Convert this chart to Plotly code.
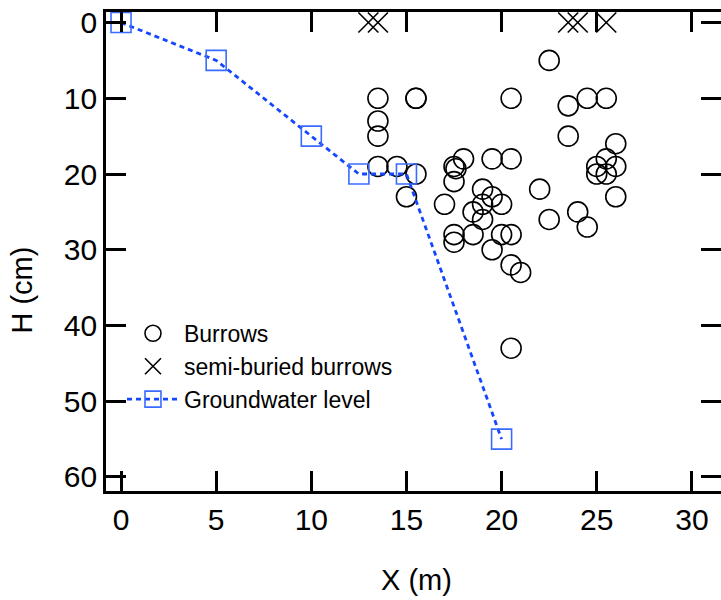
import plotly.graph_objects as go

# Burrows (X in m, H in cm)
burrow_x = [22.5, 13.5, 15.5, 15.5, 20.5, 24.5, 25.5, 23.5, 13.5, 13.5, 23.5, 26,
            13.5, 14.5, 15.5, 17.5, 17.6, 17.5, 18, 19.5, 20.5, 25.5, 25, 26, 25, 25.5,
            15, 17, 19, 19.5, 19, 20, 18.5, 19, 22, 22.5, 24, 24.5, 26,
            17.5, 17.5, 18.5, 20, 20.5, 19.5, 20.5, 21, 20.5]
burrow_h = [5, 10, 10, 10, 10, 10, 10, 11, 13, 15, 15, 16,
            19, 19, 20, 19, 19.3, 21, 18, 18, 18, 18, 19, 19, 20, 20,
            23, 24, 22, 23, 24, 24, 25, 26, 22, 26, 25, 27, 23,
            28, 29, 28, 28, 28, 30, 32, 33, 43]

# Semi-buried burrows
semi_x = [13.0, 13.5, 23.5, 24.0, 25.5]
semi_h = [0, 0, 0, 0, 0]

# Groundwater level
gw_x = [0, 5, 10, 12.5, 15, 20]
gw_h = [0, 5, 15, 20, 20, 55]

x_ticks = [0, 5, 10, 15, 20, 25, 30]
y_ticks = [0, 10, 20, 30, 40, 50, 60]

FONT = "Liberation Sans, Arial, sans-serif"

fig = go.Figure()
fig.add_trace(go.Scatter(
    x=burrow_x, y=burrow_h, mode="markers", name="Burrows",
    marker=dict(symbol="circle-open", size=20, color="black", line=dict(width=1.6, color="black")),
))
fig.add_trace(go.Scatter(
    x=semi_x, y=semi_h, mode="markers", name="semi-buried burrows",
    marker=dict(symbol="x-thin-open", size=20, color="black", line=dict(width=1.6, color="black")),
))
fig.add_trace(go.Scatter(
    x=gw_x, y=gw_h, mode="lines+markers", name="Groundwater level",
    line=dict(color="#1446ff", width=2.8, dash="5px,4px"),
    marker=dict(symbol="square-open", size=20, color="#3a6bff", line=dict(width=1.6, color="#3a6bff")),
))
# invisible trace for the right-side tick axis
fig.add_trace(go.Scatter(x=[None], y=[None], yaxis="y2", showlegend=False, hoverinfo="skip"))

yr = [61.85, -1.39]
fig.update_layout(
    width=721, height=600,
    margin=dict(l=106, r=0, t=12, b=109),
    paper_bgcolor="white", plot_bgcolor="white",
    font=dict(family=FONT, color="black", size=30),
    showlegend=True,
    legend=dict(x=0.026, y=0.374, xanchor="left", yanchor="top",
                font=dict(size=23, family=FONT), bgcolor="rgba(0,0,0,0)",
                tracegroupgap=0, itemsizing="trace", itemwidth=52),
    xaxis=dict(range=[-0.79, 31.53], tickvals=x_ticks, ticks="inside", ticklen=20, tickwidth=2.5,
               tickcolor="black", showline=True, linewidth=2.8, linecolor="black", mirror="ticks",
               showgrid=False, zeroline=False, tickfont=dict(size=30)),
    yaxis=dict(range=yr, tickvals=y_ticks, ticks="inside", ticklen=20, tickwidth=2.5,
               tickcolor="black", showline=True, linewidth=2.8, linecolor="black",
               showgrid=False, zeroline=False, tickfont=dict(size=30)),
    yaxis2=dict(range=yr, overlaying="y", side="right", anchor="x", tickvals=y_ticks,
                ticks="inside", ticklen=20, tickwidth=2.5, tickcolor="black",
                showline=False, showgrid=False, zeroline=False, showticklabels=False),
    annotations=[
        dict(text="X (m)", x=0.505, y=-0.185, xref="paper", yref="paper", showarrow=False,
             xanchor="center", yanchor="middle", font=dict(size=29, family=FONT)),
        dict(text="H (cm)", x=-0.137, y=0.42, xref="paper", yref="paper", showarrow=False,
             xanchor="center", yanchor="middle", textangle=-90, font=dict(size=29, family=FONT)),
    ],
)

fig.write_html("out.html")
